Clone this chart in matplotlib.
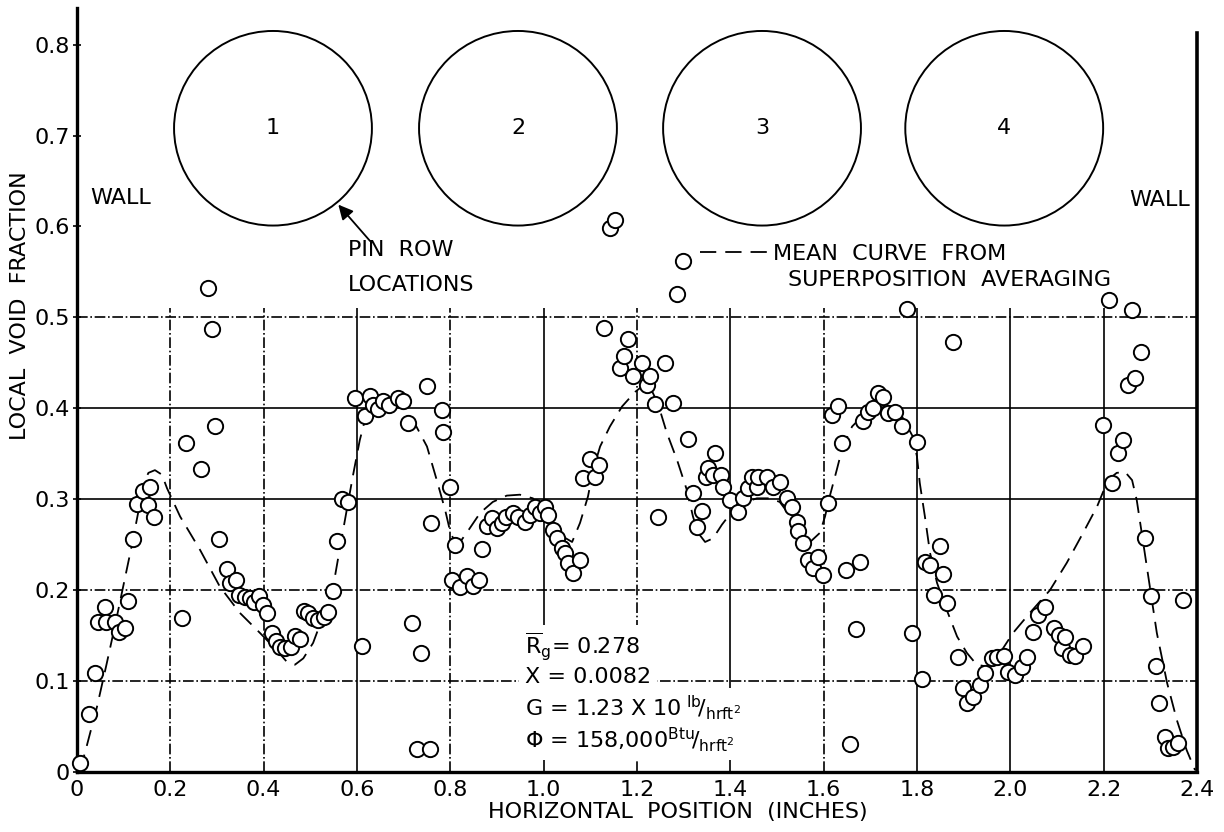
import matplotlib
matplotlib.use("Agg")
import matplotlib.pyplot as plt
from matplotlib.patches import Ellipse

plt.rcParams['font.family'] = ['DejaVu Sans']
plt.rcParams['mathtext.fontset'] = 'dejavusans'

# measured local void fraction (open circles)
pos = [0.006, 0.026, 0.039, 0.045, 0.060, 0.062, 0.081, 0.089, 0.103, 0.110,
       0.119, 0.128, 0.141, 0.152, 0.157, 0.166, 0.225, 0.233, 0.266, 0.281,
       0.289, 0.296, 0.304, 0.321, 0.328, 0.340, 0.347, 0.360, 0.371, 0.379,
       0.390, 0.399, 0.407, 0.417, 0.426, 0.435, 0.446, 0.458, 0.467, 0.478,
       0.486, 0.495, 0.506, 0.517, 0.529, 0.538, 0.549, 0.557, 0.568, 0.580,
       0.596, 0.611, 0.617, 0.628, 0.634, 0.645, 0.656, 0.668, 0.688, 0.699,
       0.709, 0.718, 0.729, 0.737, 0.750, 0.756, 0.759, 0.782, 0.784, 0.799,
       0.803, 0.810, 0.821, 0.835, 0.849, 0.862, 0.867, 0.879, 0.889, 0.899,
       0.910, 0.920, 0.935, 0.945, 0.960, 0.971, 0.981, 0.992, 1.003, 1.010,
       1.020, 1.028, 1.039, 1.046, 1.052, 1.063, 1.078, 1.085, 1.099, 1.110,
       1.119, 1.129, 1.142, 1.153, 1.163, 1.172, 1.181, 1.191, 1.210, 1.221,
       1.228, 1.238, 1.245, 1.260, 1.277, 1.286, 1.299, 1.309, 1.320, 1.329,
       1.339, 1.348, 1.352, 1.363, 1.367, 1.380, 1.384, 1.399, 1.416, 1.427,
       1.438, 1.446, 1.457, 1.459, 1.478, 1.491, 1.506, 1.521, 1.532, 1.542,
       1.545, 1.556, 1.566, 1.577, 1.588, 1.599, 1.609, 1.617, 1.631, 1.640,
       1.649, 1.656, 1.669, 1.678, 1.685, 1.695, 1.706, 1.717, 1.728, 1.738,
       1.753, 1.768, 1.778, 1.789, 1.800, 1.811, 1.817, 1.828, 1.836, 1.849,
       1.856, 1.864, 1.877, 1.888, 1.898, 1.907, 1.920, 1.935, 1.946, 1.961,
       1.971, 1.986, 1.995, 2.010, 2.025, 2.036, 2.048, 2.060, 2.074, 2.093,
       2.104, 2.110, 2.117, 2.128, 2.138, 2.155, 2.198, 2.211, 2.219, 2.231,
       2.241, 2.252, 2.260, 2.267, 2.280, 2.288, 2.301, 2.312, 2.319, 2.331,
       2.338, 2.349, 2.359, 2.370]
void = [0.010, 0.064, 0.109, 0.165, 0.182, 0.165, 0.165, 0.154, 0.158, 0.188,
        0.256, 0.295, 0.309, 0.294, 0.314, 0.281, 0.169, 0.362, 0.333, 0.532,
        0.487, 0.380, 0.256, 0.223, 0.208, 0.211, 0.195, 0.193, 0.191, 0.187,
        0.194, 0.184, 0.175, 0.153, 0.144, 0.138, 0.136, 0.137, 0.150, 0.146,
        0.177, 0.175, 0.169, 0.167, 0.170, 0.176, 0.199, 0.254, 0.300, 0.297,
        0.411, 0.139, 0.391, 0.414, 0.404, 0.399, 0.408, 0.404, 0.411, 0.408,
        0.384, 0.164, 0.025, 0.131, 0.425, 0.025, 0.274, 0.398, 0.374, 0.313,
        0.211, 0.250, 0.204, 0.216, 0.205, 0.211, 0.245, 0.271, 0.279, 0.268,
        0.274, 0.281, 0.285, 0.281, 0.275, 0.283, 0.292, 0.285, 0.292, 0.283,
        0.266, 0.257, 0.246, 0.241, 0.230, 0.219, 0.233, 0.323, 0.344, 0.324,
        0.338, 0.488, 0.598, 0.607, 0.444, 0.458, 0.476, 0.436, 0.450, 0.426,
        0.436, 0.405, 0.281, 0.450, 0.406, 0.526, 0.562, 0.366, 0.307, 0.270,
        0.287, 0.325, 0.334, 0.327, 0.351, 0.327, 0.313, 0.299, 0.286, 0.301,
        0.312, 0.324, 0.313, 0.325, 0.325, 0.313, 0.319, 0.301, 0.292, 0.275,
        0.265, 0.252, 0.233, 0.224, 0.237, 0.217, 0.296, 0.393, 0.402, 0.362,
        0.222, 0.031, 0.157, 0.231, 0.386, 0.396, 0.400, 0.417, 0.412, 0.395,
        0.396, 0.381, 0.509, 0.153, 0.363, 0.102, 0.231, 0.228, 0.195, 0.249,
        0.218, 0.186, 0.473, 0.127, 0.092, 0.076, 0.083, 0.096, 0.109, 0.125,
        0.127, 0.128, 0.110, 0.107, 0.116, 0.127, 0.154, 0.173, 0.182, 0.158,
        0.151, 0.136, 0.149, 0.129, 0.128, 0.139, 0.382, 0.519, 0.318, 0.351,
        0.365, 0.426, 0.508, 0.433, 0.462, 0.257, 0.194, 0.117, 0.076, 0.039,
        0.026, 0.028, 0.032, 0.189]

# mean curve from superposition averaging (dashed)
mean_x = [0.006, 0.017, 0.043, 0.064, 0.081, 0.099, 0.117, 0.131, 0.142, 0.153,
          0.167, 0.182, 0.193, 0.221, 0.264, 0.306, 0.349, 0.392, 0.428, 0.450,
          0.467, 0.485, 0.506, 0.527, 0.549, 0.564, 0.578, 0.591, 0.606, 0.621,
          0.638, 0.666, 0.696, 0.720, 0.750, 0.771, 0.789, 0.799, 0.806, 0.821,
          0.835, 0.864, 0.891, 0.921, 0.949, 0.977, 0.998, 1.020, 1.041, 1.061,
          1.078, 1.095, 1.106, 1.121, 1.142, 1.168, 1.196, 1.223, 1.245, 1.264,
          1.286, 1.307, 1.320, 1.331, 1.346, 1.363, 1.382, 1.403, 1.427, 1.457,
          1.485, 1.506, 1.532, 1.553, 1.571, 1.592, 1.603, 1.613, 1.628, 1.641,
          1.661, 1.682, 1.706, 1.736, 1.768, 1.791, 1.800, 1.806, 1.817, 1.828,
          1.843, 1.864, 1.886, 1.907, 1.928, 1.950, 1.978, 2.006, 2.042, 2.085,
          2.121, 2.156, 2.186, 2.198, 2.209, 2.228, 2.246, 2.261, 2.271, 2.284,
          2.299, 2.314, 2.336, 2.357, 2.378, 2.396]
mean_y = [0.002, 0.021, 0.072, 0.120, 0.160, 0.204, 0.248, 0.285, 0.316, 0.329,
          0.332, 0.327, 0.312, 0.281, 0.244, 0.204, 0.175, 0.153, 0.134, 0.121,
          0.118, 0.125, 0.142, 0.171, 0.204, 0.248, 0.288, 0.325, 0.365, 0.395,
          0.407, 0.412, 0.411, 0.387, 0.358, 0.321, 0.288, 0.266, 0.257, 0.253,
          0.263, 0.285, 0.297, 0.304, 0.305, 0.301, 0.288, 0.272, 0.259, 0.253,
          0.274, 0.303, 0.332, 0.358, 0.380, 0.402, 0.418, 0.429, 0.405, 0.373,
          0.343, 0.310, 0.281, 0.263, 0.253, 0.257, 0.272, 0.286, 0.296, 0.301,
          0.301, 0.297, 0.279, 0.259, 0.253, 0.263, 0.281, 0.303, 0.332, 0.358,
          0.380, 0.391, 0.400, 0.402, 0.391, 0.369, 0.347, 0.318, 0.281, 0.241,
          0.208, 0.178, 0.149, 0.131, 0.118, 0.116, 0.131, 0.153, 0.175, 0.200,
          0.230, 0.263, 0.292, 0.307, 0.321, 0.329, 0.330, 0.321, 0.299, 0.255,
          0.204, 0.153, 0.098, 0.057, 0.024, 0.002]

pin_x = [0.42, 0.945, 1.468, 1.987]
pin_labels = ['1', '2', '3', '4']
pin_y = 0.708

x_ticks = [0, 0.2, 0.4, 0.6, 0.8, 1.0, 1.2, 1.4, 1.6, 1.8, 2.0, 2.2, 2.4]
x_labels = ['0', '0.2', '0.4', '0.6', '0.8', '1.0', '1.2', '1.4', '1.6', '1.8', '2.0', '2.2', '2.4']
y_ticks = [0, 0.1, 0.2, 0.3, 0.4, 0.5, 0.6, 0.7, 0.8]
y_labels = ['0', '0.1', '0.2', '0.3', '0.4', '0.5', '0.6', '0.7', '0.8']

fs = 16
fig = plt.figure(figsize=(12.24, 8.32), dpi=100)
ax = fig.add_axes([0.0629, 0.0721, 0.9150, 0.918])
ax.set_xlim(0, 2.4)
ax.set_ylim(0, 0.84)

# graph-paper style grid
h_styles = ['-.', '-.', '-', '-', '-.']
for yv, ls in zip(y_ticks[1:6], h_styles):
    ax.axhline(yv, color='black', lw=1.2, ls=ls, zorder=1)
v_styles = ['-.', '-.', '-', '-.', '-', '-.', '-', '-.', '-', '-', '-']
for xv, ls in zip(x_ticks[1:12], v_styles):
    ax.vlines(xv, 0, 0.51, color='black', lw=1.2, ls=ls, zorder=1)

mean_line, = ax.plot(mean_x, mean_y, color='black', lw=1.3, dashes=(9, 5), zorder=2)
ax.plot(pos, void, ls='none', marker='o', ms=11, mfc='white', mec='black',
        mew=1.4, zorder=3, clip_on=False)

# pin rows
for cx, lab in zip(pin_x, pin_labels):
    ax.add_patch(Ellipse((cx, pin_y), 0.424, 0.214, fill=False, ec='black', lw=1.4))
    ax.text(cx, pin_y, lab, ha='center', va='center', fontsize=fs)

# spines / walls
for s in ['top', 'right']:
    ax.spines[s].set_visible(False)
ax.spines['left'].set_linewidth(2.4)
ax.spines['bottom'].set_linewidth(2.4)
ax.axvline(2.4, 0, 0.813 / 0.84, color='black', lw=2.6, clip_on=False)

ax.set_xticks(x_ticks)
ax.set_xticklabels(x_labels, fontsize=fs)
ax.set_yticks(y_ticks)
ax.set_yticklabels(y_labels, fontsize=fs)
ax.tick_params(axis='x', length=0, pad=6)
ax.tick_params(axis='y', length=6, direction='inout', width=1.2, pad=2)

ax.text(0.028, 0.631, 'WALL', fontsize=fs, va='center', ha='left')
ax.text(2.385, 0.629, 'WALL', fontsize=fs, va='center', ha='right')

ax.text(0.581, 0.574, 'PIN  ROW', fontsize=fs, va='center', ha='left')
ax.text(0.581, 0.536, 'LOCATIONS', fontsize=fs, va='center', ha='left')
ax.annotate('', xy=(0.56, 0.624), xytext=(0.628, 0.584),
            arrowprops=dict(arrowstyle='-|>', color='black', lw=1.3,
                            mutation_scale=22, shrinkA=0, shrinkB=0))

ax.legend([mean_line], ['MEAN  CURVE  FROM'], loc='center left',
          bbox_to_anchor=(1.335, 0.570), bbox_transform=ax.transData,
          frameon=False, fontsize=fs, handlelength=3.1, handletextpad=0.2,
          borderpad=0, borderaxespad=0)
ax.text(1.523, 0.541, 'SUPERPOSITION  AVERAGING', fontsize=fs, va='center', ha='left')

# test conditions, on a white patch that breaks the grid as in the original
blank = dict(facecolor='white', edgecolor='none', pad=4)
ax.text(0.96, 0.1375, r'$\overline{\rm R}_{g}$= 0.278', fontsize=fs, va='center',
        bbox=blank, zorder=2.5)
ax.text(0.96, 0.1045, 'X = 0.0082', fontsize=fs, va='center', bbox=blank, zorder=2.5)
ax.text(0.96, 0.0704, r'G = 1.23 X $\mathrm{10}^{\ \mathrm{lb}}\!/_{\mathrm{hrft}^{2}}$',
        fontsize=fs, va='center', bbox=blank, zorder=2.5)
ax.text(0.96, 0.0352, r'$\Phi$ = 158,000$^{\mathrm{Btu}}\!/_{\mathrm{hrft}^{2}}$',
        fontsize=fs, va='center', bbox=blank, zorder=2.5)

fig.text(0.016, 0.633, 'LOCAL  VOID  FRACTION', rotation=90, fontsize=fs,
         ha='center', va='center')
fig.text(0.554, 0.024, 'HORIZONTAL  POSITION  (INCHES)', fontsize=fs,
         ha='center', va='center')

fig.savefig('out.png', dpi=100)
